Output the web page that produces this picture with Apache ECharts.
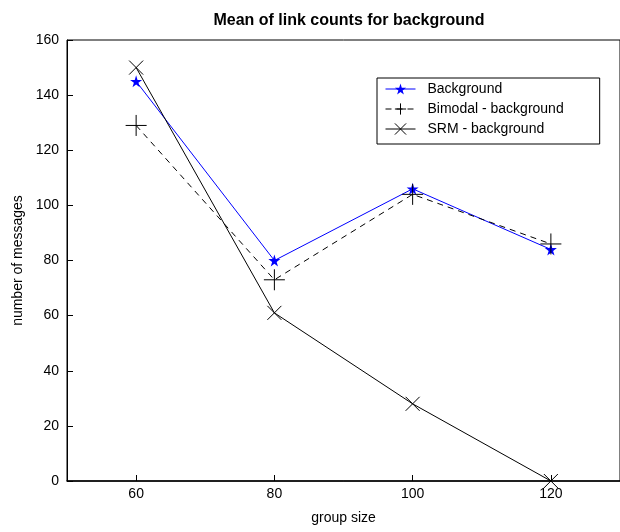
<!DOCTYPE html>
<html>
<head>
<meta charset="utf-8">
<script src="https://cdn.jsdelivr.net/npm/echarts@6/dist/echarts.min.js"></script>
<style>html,body{margin:0;padding:0;background:#fff}#c{width:620px;height:532px}</style>
</head>
<body>
<div id="c"></div>
<script>
const groupSizes = [60, 80, 100, 120];
const background = [145, 80, 106, 84];
const bimodal = [129, 73, 104, 86];
const srm = [150, 61, 28, 0];
const xTicks = [60, 80, 100, 120];

const STAR = 'path://M50,0 L61,35 L98,35 L68,57 L79,91 L50,70 L21,91 L32,57 L2,35 L39,35 Z';
const PLUS = 'path://M0,10L20,10M10,0L10,20';
const CROSS = 'path://M0,0L20,20M20,0L0,20';
const FONT = 'Liberation Sans, Arial, sans-serif';

function pairs(vals){ return groupSizes.map((g,i)=>[g, vals[i]]); }

const chart = echarts.init(document.getElementById('c'));
chart.setOption({
  animation: false,
  backgroundColor: '#fff',
  title: {
    text: 'Mean of link counts for background',
    left: 344, top: 8, textAlign: 'center',
    textStyle: {fontFamily: FONT, fontSize: 16, fontWeight: 'bold', color: '#000'}
  },
  grid: {left: 67, top: 40, width: 558, height: 441, show: true, borderColor: '#000', borderWidth: 1},
  legend: {
    orient: 'vertical', left: 377, top: 78,
    padding: [4, 36, 8, 8], itemGap: 6, itemWidth: 30, itemHeight: 14,
    borderColor: '#000', borderWidth: 1, backgroundColor: '#fff',
    lineStyle: {width: 1},
    itemStyle: {borderWidth: 1},
    textStyle: {fontFamily: FONT, fontSize: 14, color: '#000', padding: [0,0,0,7]},
    data: ['Background', 'Bimodal - background', 'SRM - background']
  },
  xAxis: {
    type: 'value', min: 50, max: 130,
    name: 'group size', nameLocation: 'middle', nameGap: 30,
    nameTextStyle: {fontFamily: FONT, fontSize: 14, color: '#000'},
    axisLine: {show: true, onZero: false, lineStyle: {color: '#000', width: 1.5}},
    axisTick: {show: true, inside: true, length: 6, customValues: xTicks, lineStyle: {color: '#000'}},
    axisLabel: {customValues: xTicks, fontFamily: FONT, fontSize: 14, color: '#000', margin: 6},
    splitLine: {show: false}
  },
  yAxis: {
    type: 'value', min: 0, max: 160, interval: 20,
    name: 'number of messages', nameLocation: 'middle', nameGap: 42,
    nameTextStyle: {fontFamily: FONT, fontSize: 14, color: '#000'},
    axisLine: {show: true, lineStyle: {color: '#000', width: 1}},
    axisTick: {show: true, inside: true, length: 6, lineStyle: {color: '#000'}},
    axisLabel: {fontFamily: FONT, fontSize: 14, color: '#000', margin: 8},
    splitLine: {show: false}
  },
  series: [
    {
      name: 'Background', type: 'line', data: pairs(background),
      symbol: STAR, symbolSize: 12,
      lineStyle: {color: '#0000ff', width: 1},
      itemStyle: {color: '#0000ff'}
    },
    {
      name: 'Bimodal - background', type: 'line', data: pairs(bimodal),
      symbol: PLUS, symbolSize: 21,
      lineStyle: {color: '#000', width: 1, type: [6, 5]},
      itemStyle: {color: 'rgba(0,0,0,0)', borderColor: '#000', borderWidth: 1}
    },
    {
      name: 'SRM - background', type: 'line', data: pairs(srm),
      symbol: CROSS, symbolSize: 14,
      lineStyle: {color: '#000', width: 1},
      itemStyle: {color: 'rgba(0,0,0,0)', borderColor: '#000', borderWidth: 1}
    }
  ]
});
</script>
</body>
</html>
